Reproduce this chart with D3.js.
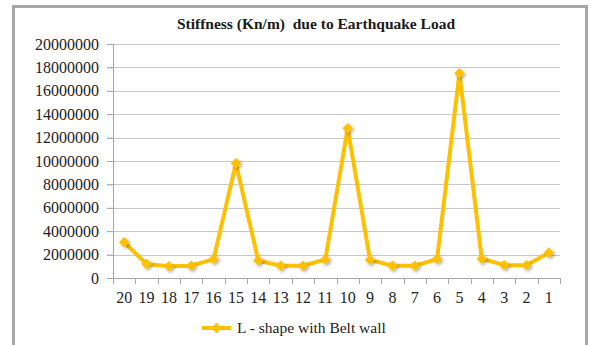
<!DOCTYPE html>
<html>
<head>
<meta charset="utf-8">
<script src="https://cdn.jsdelivr.net/npm/d3@7"></script>
<style>
  body { margin: 0; background: #fff; }
</style>
</head>
<body>
<div id="chart"></div>
<script>
// Datos
const categorias = ["20","19","18","17","16","15","14","13","12","11","10","9","8","7","6","5","4","3","2","1"];
const rigidez = [3050000, 1200000, 1000000, 1050000, 1620000, 9800000, 1500000, 1050000, 1050000, 1580000,
                 12800000, 1550000, 1050000, 1050000, 1620000, 17500000, 1650000, 1100000, 1100000, 2150000];
const yTicks = [0, 2000000, 4000000, 6000000, 8000000, 10000000, 12000000, 14000000, 16000000, 18000000, 20000000];
const titulo = "Stiffness (Kn/m)  due to Earthquake Load";
const serie = "L - shape with Belt wall";

const fuente = "Liberation Serif, DejaVu Serif";
const svgWidth = 591, svgHeight = 345;
const margin = { top: 44, right: 31, bottom: 67, left: 113 };
const width = svgWidth - margin.left - margin.right;
const height = svgHeight - margin.top - margin.bottom;
const amarillo = "#FFC000";

const root = d3.select("#chart").append("svg")
  .attr("width", svgWidth)
  .attr("height", svgHeight);

// sombra para los marcadores
const defs = root.append("defs");
const f = defs.append("filter").attr("id", "sombra").attr("x", "-50%").attr("y", "-50%").attr("width", "200%").attr("height", "200%");
f.append("feDropShadow").attr("dx", 1.5).attr("dy", 1.5).attr("stdDeviation", 1.5).attr("flood-color", "#000").attr("flood-opacity", 0.35);

// marco
root.append("rect")
  .attr("x", 13.5).attr("y", 6.5)
  .attr("width", 573).attr("height", 350)
  .attr("fill", "#fff")
  .attr("stroke", "#a6a6a6")
  .attr("stroke-width", 3);

root.append("text")
  .attr("x", 316).attr("y", 29)
  .attr("text-anchor", "middle")
  .attr("font-size", 15.5)
  .attr("font-weight", "bold")
  .attr("fill", "#1a1a1a")
  .style("white-space", "pre")
  .text(titulo);

const svg = root.append("g").attr("transform", `translate(${margin.left},${margin.top})`);

const x = d3.scaleBand().domain(categorias).range([0, width]);
const y = d3.scaleLinear().domain([0, 20000000]).range([height, 0]);

// rejilla
svg.append("g")
  .selectAll("line")
  .data(yTicks.slice(1))
  .enter().append("line")
  .attr("x1", -6).attr("x2", width)
  .attr("y1", d => Math.round(y(d)) + 0.5).attr("y2", d => Math.round(y(d)) + 0.5)
  .attr("stroke", "#c8c8c8")
  .attr("stroke-width", 1.2);

// eje y
const ejeY = svg.append("g")
  .call(d3.axisLeft(y).tickValues(yTicks).tickFormat(d3.format("d")).tickSize(6).tickPadding(8));
ejeY.select(".domain").attr("stroke", "#a6a6a6").attr("d", `M0.5,0V${height}`);
ejeY.selectAll(".tick line").attr("stroke", "#a6a6a6");
ejeY.selectAll("text").attr("font-size", 16).attr("fill", "#222");

// eje x
const ejeX = svg.append("g")
  .attr("transform", `translate(0,${height})`)
  .call(d3.axisBottom(x).tickSize(0).tickPadding(14));
ejeX.select(".domain").attr("stroke", "#a6a6a6");
ejeX.selectAll("text").attr("font-size", 16).attr("fill", "#222");
svg.append("g")
  .selectAll("line")
  .data(categorias.concat(["fin"]))
  .enter().append("line")
  .attr("x1", (d, i) => Math.round(i * x.bandwidth()) + 0.5)
  .attr("x2", (d, i) => Math.round(i * x.bandwidth()) + 0.5)
  .attr("y1", height).attr("y2", height + 6)
  .attr("stroke", "#a6a6a6");

// linea
const datos = categorias.map((c, i) => ({ c, v: rigidez[i] }));
const linea = d3.line().x(d => x(d.c) + x.bandwidth() / 2).y(d => y(d.v));
svg.append("path")
  .datum(datos)
  .attr("d", linea)
  .attr("fill", "none")
  .attr("stroke", amarillo)
  .attr("stroke-width", 4)
  .attr("stroke-linejoin", "round");

const diamante = d3.symbol().type(d3.symbolDiamond2).size(70);
svg.selectAll(".marcador")
  .data(datos)
  .enter().append("path")
  .attr("class", "marcador")
  .attr("transform", d => `translate(${x(d.c) + x.bandwidth() / 2},${y(d.v)})`)
  .attr("d", diamante)
  .attr("fill", amarillo)
  .attr("filter", "url(#sombra)");

// leyenda
const ley = root.append("g").attr("transform", "translate(202,328)");
ley.append("line").attr("x1", 0).attr("x2", 29).attr("y1", 0).attr("y2", 0)
  .attr("stroke", amarillo).attr("stroke-width", 4);
ley.append("path").attr("transform", "translate(14.5,0)").attr("d", diamante).attr("fill", amarillo);
ley.append("text").attr("x", 35).attr("y", 0).attr("dy", "0.35em")
  .attr("font-size", 15.5).attr("fill", "#222").text(serie);

root.selectAll("text").attr("font-family", fuente).style("font-family", fuente);
</script>
</body>
</html>
